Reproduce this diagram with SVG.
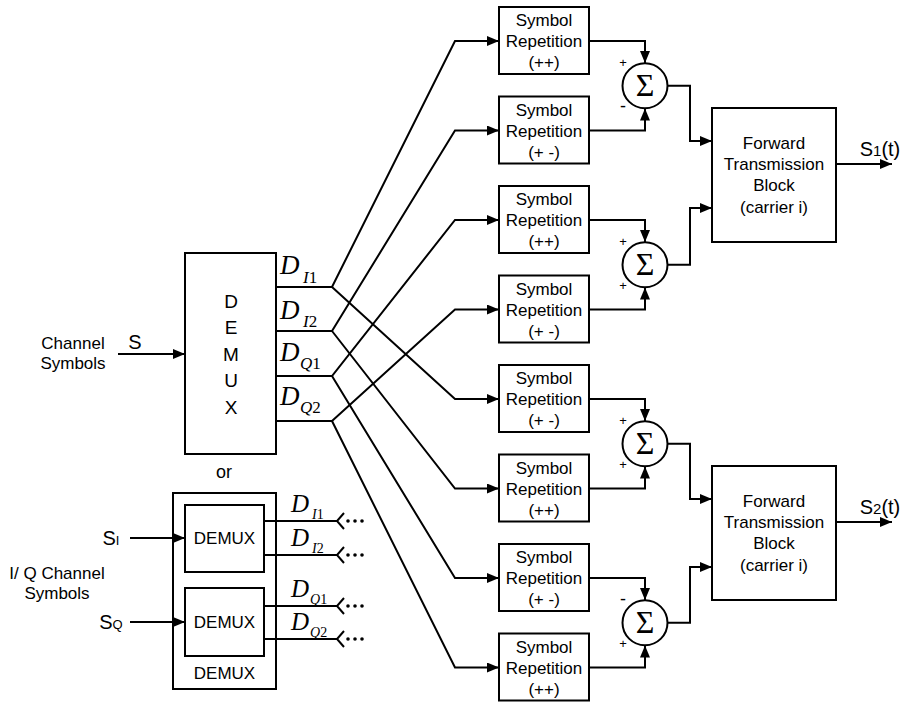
<svg xmlns="http://www.w3.org/2000/svg" width="908" height="703" viewBox="0 0 908 703">
<style>
.b{fill:#fff;stroke:#000;stroke-width:2}
.c{fill:none;stroke:#000;stroke-width:2}
.t{font-family:"Liberation Sans",Arial,sans-serif;font-size:17px;text-anchor:middle;fill:#000}
.d{font-family:"Liberation Serif","Times New Roman",serif;font-style:italic;fill:#000}
.sg{font-family:"Liberation Serif","Times New Roman",serif;font-size:32px;text-anchor:middle;fill:#000}
.pm{font-family:"Liberation Sans",Arial,sans-serif;font-size:13px;text-anchor:middle;fill:#000}
</style>
<defs>
<marker id="a" markerUnits="userSpaceOnUse" markerWidth="12" markerHeight="10" refX="12" refY="5" orient="auto">
<path d="M0,0 L12,5 L0,10 z" fill="#000"/>
</marker>
</defs>

<g id="labels-left">
<text class="t" x="73" y="349">Channel</text>
<text class="t" x="73" y="369">Symbols</text>
<text class="t" x="135" y="349" style="font-size:20px">S</text>
<text class="t" x="224" y="478" style="font-size:18px">or</text>
<text class="t" x="57" y="579">I/ Q Channel</text>
<text class="t" x="57" y="599">Symbols</text>
<text class="t" x="111" y="545" style="font-size:20px">S<tspan style="font-size:13px">I</tspan></text>
<text class="t" x="111" y="629" style="font-size:20px">S<tspan style="font-size:13px">Q</tspan></text>
</g>

<g id="demux">
<rect class="b" x="185" y="253" width="91" height="201"/>
<text class="t" x="231" y="308" style="font-size:19px">D</text>
<text class="t" x="231" y="334" style="font-size:19px">E</text>
<text class="t" x="231" y="361" style="font-size:19px">M</text>
<text class="t" x="231" y="387" style="font-size:19px">U</text>
<text class="t" x="231" y="414" style="font-size:19px">X</text>
<text class="d" x="280" y="274" style="font-size:27px">D<tspan x="303" y="283" style="font-size:17px">I</tspan><tspan style="font-style:normal;font-size:17px">1</tspan></text>
<text class="d" x="280" y="319" style="font-size:27px">D<tspan x="303" y="327" style="font-size:17px">I</tspan><tspan style="font-style:normal;font-size:17px">2</tspan></text>
<text class="d" x="280" y="361" style="font-size:27px">D<tspan x="300" y="369" style="font-size:17px">Q</tspan><tspan style="font-style:normal;font-size:17px">1</tspan></text>
<text class="d" x="280" y="405" style="font-size:27px">D<tspan x="300" y="413" style="font-size:17px">Q</tspan><tspan style="font-style:normal;font-size:17px">2</tspan></text>
</g>

<g id="demux-iq">
<rect class="b" x="173" y="493" width="103" height="196"/>
<rect class="b" x="185" y="505" width="79" height="67"/>
<rect class="b" x="185" y="588" width="79" height="68"/>
<text class="t" x="224.5" y="544">DEMUX</text>
<text class="t" x="224.5" y="628">DEMUX</text>
<text class="t" x="224.5" y="679">DEMUX</text>
<text class="d" x="291" y="512" style="font-size:25px">D<tspan x="312" y="519" style="font-size:14px">I</tspan><tspan style="font-style:normal;font-size:14px">1</tspan></text>
<text class="d" x="291" y="546" style="font-size:25px">D<tspan x="312" y="553" style="font-size:14px">I</tspan><tspan style="font-style:normal;font-size:14px">2</tspan></text>
<text class="d" x="291" y="597" style="font-size:25px">D<tspan x="310" y="604" style="font-size:14px">Q</tspan><tspan style="font-style:normal;font-size:14px">1</tspan></text>
<text class="d" x="291" y="630" style="font-size:25px">D<tspan x="310" y="637" style="font-size:14px">Q</tspan><tspan style="font-style:normal;font-size:14px">2</tspan></text>
<g fill="#000">
<circle cx="348" cy="521" r="1.8"/><circle cx="355" cy="521" r="1.8"/><circle cx="362" cy="521" r="1.8"/>
<circle cx="348" cy="555" r="1.8"/><circle cx="355" cy="555" r="1.8"/><circle cx="362" cy="555" r="1.8"/>
<circle cx="348" cy="606" r="1.8"/><circle cx="355" cy="606" r="1.8"/><circle cx="362" cy="606" r="1.8"/>
<circle cx="348" cy="639" r="1.8"/><circle cx="355" cy="639" r="1.8"/><circle cx="362" cy="639" r="1.8"/>
</g>
</g>

<g id="rep1"><rect class="b" x="499" y="7" width="90" height="67"/><text class="t" x="544" y="26">Symbol</text><text class="t" x="544" y="47">Repetition</text><text class="t" x="544" y="68">(++)</text></g>
<g id="rep2"><rect class="b" x="499" y="96.5" width="90" height="67"/><text class="t" x="544" y="115.5">Symbol</text><text class="t" x="544" y="136.5">Repetition</text><text class="t" x="544" y="157.5">(+ -)</text></g>
<g id="rep3"><rect class="b" x="499" y="186" width="90" height="67"/><text class="t" x="544" y="205">Symbol</text><text class="t" x="544" y="226">Repetition</text><text class="t" x="544" y="247">(++)</text></g>
<g id="rep4"><rect class="b" x="499" y="275.5" width="90" height="67"/><text class="t" x="544" y="294.5">Symbol</text><text class="t" x="544" y="315.5">Repetition</text><text class="t" x="544" y="336.5">(+ -)</text></g>
<g id="rep5"><rect class="b" x="499" y="365" width="90" height="67"/><text class="t" x="544" y="384">Symbol</text><text class="t" x="544" y="405">Repetition</text><text class="t" x="544" y="426">(+ -)</text></g>
<g id="rep6"><rect class="b" x="499" y="454.5" width="90" height="67"/><text class="t" x="544" y="473.5">Symbol</text><text class="t" x="544" y="494.5">Repetition</text><text class="t" x="544" y="515.5">(++)</text></g>
<g id="rep7"><rect class="b" x="499" y="544" width="90" height="67"/><text class="t" x="544" y="563">Symbol</text><text class="t" x="544" y="584">Repetition</text><text class="t" x="544" y="605">(+ -)</text></g>
<g id="rep8"><rect class="b" x="499" y="633.5" width="90" height="67"/><text class="t" x="544" y="652.5">Symbol</text><text class="t" x="544" y="673.5">Repetition</text><text class="t" x="544" y="694.5">(++)</text></g>

<g id="sum1"><circle class="b" cx="645" cy="85.75" r="22.5"/><text class="sg" x="645" y="96">Σ</text><text class="pm" x="623" y="67">+</text><text class="pm" x="623" y="112" style="font-size:18px">-</text></g>
<g id="sum2"><circle class="b" cx="645" cy="264.75" r="22.5"/><text class="sg" x="645" y="275">Σ</text><text class="pm" x="623" y="246">+</text><text class="pm" x="623" y="290">+</text></g>
<g id="sum3"><circle class="b" cx="645" cy="443.75" r="22.5"/><text class="sg" x="645" y="454">Σ</text><text class="pm" x="623" y="425">+</text><text class="pm" x="623" y="469">+</text></g>
<g id="sum4"><circle class="b" cx="645" cy="622.75" r="22.5"/><text class="sg" x="645" y="633">Σ</text><text class="pm" x="623" y="605" style="font-size:18px">-</text><text class="pm" x="623" y="648">+</text></g>

<g id="ftb1"><rect class="b" x="712" y="108" width="124" height="134"/><text class="t" x="774" y="149">Forward</text><text class="t" x="774" y="170">Transmission</text><text class="t" x="774" y="191">Block</text><text class="t" x="774" y="213">(carrier i)</text>
<text class="t" x="880" y="156" style="font-size:20px">S<tspan style="font-size:15px">1</tspan>(t)</text></g>
<g id="ftb2"><rect class="b" x="712" y="466" width="124" height="134"/><text class="t" x="774" y="507">Forward</text><text class="t" x="774" y="528">Transmission</text><text class="t" x="774" y="549">Block</text><text class="t" x="774" y="571">(carrier i)</text>
<text class="t" x="880" y="514" style="font-size:20px">S<tspan style="font-size:15px">2</tspan>(t)</text></g>

<g id="connectors" class="c">
<path class="c" d="M118,354 H185" marker-end="url(#a)"/>
<path class="c" d="M276,287 H332 L455,41 H499" marker-end="url(#a)"/>
<path class="c" d="M332,287 L455,399 H499" marker-end="url(#a)"/>
<path class="c" d="M276,331 H332 L455,130.5 H499" marker-end="url(#a)"/>
<path class="c" d="M332,331 L455,488.5 H499" marker-end="url(#a)"/>
<path class="c" d="M276,376 H332 L455,220 H499" marker-end="url(#a)"/>
<path class="c" d="M332,376 L455,578 H499" marker-end="url(#a)"/>
<path class="c" d="M276,421 H332 L455,309.5 H499" marker-end="url(#a)"/>
<path class="c" d="M332,421 L455,667.5 H499" marker-end="url(#a)"/>
<path class="c" d="M589,41 H645 V63" marker-end="url(#a)"/>
<path class="c" d="M589,130.5 H645 V108.5" marker-end="url(#a)"/>
<path class="c" d="M589,220 H645 V242" marker-end="url(#a)"/>
<path class="c" d="M589,309.5 H645 V287.5" marker-end="url(#a)"/>
<path class="c" d="M589,399 H645 V421" marker-end="url(#a)"/>
<path class="c" d="M589,488.5 H645 V466.5" marker-end="url(#a)"/>
<path class="c" d="M589,578 H645 V600" marker-end="url(#a)"/>
<path class="c" d="M589,667.5 H645 V645.5" marker-end="url(#a)"/>
<path class="c" d="M667.5,85.75 H690 V141 H712" marker-end="url(#a)"/>
<path class="c" d="M667.5,264.75 H690 V208 H712" marker-end="url(#a)"/>
<path class="c" d="M667.5,443.75 H690 V499 H712" marker-end="url(#a)"/>
<path class="c" d="M667.5,622.75 H690 V567 H712" marker-end="url(#a)"/>
<path class="c" d="M836,164 H892" marker-end="url(#a)"/>
<path class="c" d="M836,522 H892" marker-end="url(#a)"/>
<path class="c" d="M130,538 H185" marker-end="url(#a)"/>
<path class="c" d="M130,622 H185" marker-end="url(#a)"/>
<path class="c" d="M264,521 H337 M344,513 L337,521 L344,529"/>
<path class="c" d="M264,555 H337 M344,547 L337,555 L344,563"/>
<path class="c" d="M264,606 H337 M344,598 L337,606 L344,614"/>
<path class="c" d="M264,639 H337 M344,631 L337,639 L344,647"/>
</g>
</svg>
